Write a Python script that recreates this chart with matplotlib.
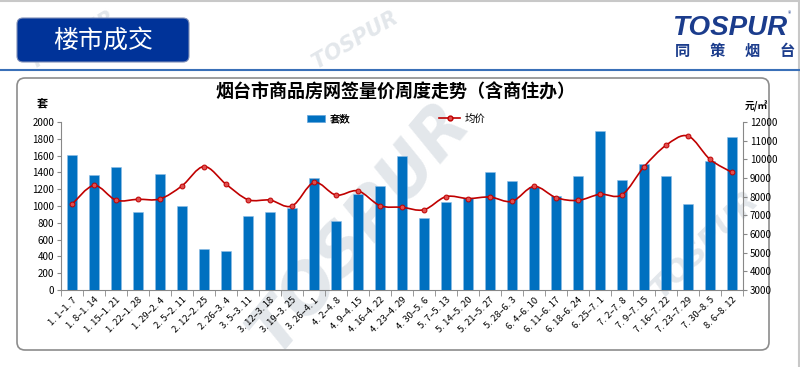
import matplotlib
matplotlib.use("Agg")
import matplotlib.pyplot as plt
from matplotlib.patches import FancyBboxPatch, Rectangle
from matplotlib.path import Path
from matplotlib.patches import PathPatch
from matplotlib.lines import Line2D
import numpy as np

plt.rcParams['font.family'] = ['Noto Sans CJK SC', 'DejaVu Sans']

# 周度网签数据
weeks = ["1. 1–1. 7", "1. 8–1. 14", "1. 15–1. 21", "1. 22–1. 28", "1. 29–2. 4", "2. 5–2. 11",
         "2. 12–2. 25", "2. 26–3. 4", "3. 5–3. 11", "3. 12–3. 18", "3. 19–3. 25", "3. 26–4. 1",
         "4. 2–4. 8", "4. 9–4. 15", "4. 16–4. 22", "4. 23–4. 29", "4. 30–5. 6", "5. 7–5. 13",
         "5. 14–5. 20", "5. 21–5. 27", "5. 28–6. 3", "6. 4–6. 10", "6. 11–6. 17", "6. 18–6. 24",
         "6. 25–7. 1", "7. 2–7. 8", "7. 9–7. 15", "7. 16–7. 22", "7. 23–7. 29", "7. 30–8. 5",
         "8. 6–8. 12"]
units = [1610, 1370, 1470, 930, 1380, 1000, 490, 460, 880, 930, 980, 1330,
         825, 1140, 1240, 1600, 855, 1045, 1100, 1400, 1300, 1222, 1122, 1355,
         1890, 1310, 1500, 1355, 1022, 1533, 1822]
avg_price = [7590, 8600, 7815, 7860, 7880, 8580, 9615, 8670, 7840, 7815, 7500, 8760,
             8085, 8310, 7520, 7430, 7300, 8000, 7900, 7980, 7750, 8550, 7950, 7800,
             8130, 8100, 9600, 10750, 11250, 10000, 9300]

BLUE = "#0070C0"
RED = "#C00000"
LOGO = "#1B3C8C"

fig = plt.figure(figsize=(8, 3.67), dpi=100)

# 背景层（像素坐标）
bg = fig.add_axes([0, 0, 1, 1], zorder=0)
bg.set_xlim(0, 800)
bg.set_ylim(367, 0)
bg.axis("off")

# 水印
wm = dict(color="#e3e7eb", fontweight="bold", style="italic", family="DejaVu Sans",
          ha="center", va="center", zorder=1)
bg.text(72, 40, "TOSPUR", fontsize=15, rotation=30, **wm)
bg.text(355, 40, "TOSPUR", fontsize=15, rotation=30, **wm)
bg.text(360, 228, "TOSPUR", fontsize=48, rotation=50, **wm)
bg.text(705, 245, "TOSPUR", fontsize=22, rotation=45, **wm)

# 边框线
bg.plot([0, 800], [1, 1], color="#c8c8c8", lw=1.5, zorder=2)
bg.plot([799, 799], [0, 367], color="#c8c8c8", lw=1.5, zorder=2)
bg.plot([0, 800], [70, 70], color="#3A70B8", lw=1.5, zorder=2)

# 标题标签
bg.add_patch(FancyBboxPatch((17, 18), 172, 44, boxstyle="round,pad=0,rounding_size=6",
                            fc="#003399", ec="#7f8fb8", lw=0.8, zorder=3))
bg.text(103, 41, "楼市成交", color="white", fontsize=18, ha="center", va="center", zorder=4)

# logo
bg.text(730, 28, "TOSPUR", color=LOGO, fontsize=20, fontweight="bold", style="italic",
        family="Liberation Sans", ha="center", va="center", zorder=4)
bg.text(790, 14, "®", color=LOGO, fontsize=5, ha="center", va="center", zorder=4)
for i, ch in enumerate("同策烟台"):
    bg.text(682 + i * 35, 51, ch, color=LOGO, fontsize=11, fontweight="bold",
            ha="center", va="center", zorder=4)

# 图表外框
bg.add_patch(FancyBboxPatch((17, 78), 752, 272, boxstyle="round,pad=0,rounding_size=8",
                            fc="none", ec="#8c8c8c", lw=1.2, zorder=2))

bg.text(395, 92, "烟台市商品房网签量价周度走势（含商住办）", fontsize=13, fontweight="bold",
        ha="center", va="center", zorder=4)
bg.text(42, 103, "套", fontsize=8, fontweight="bold", ha="center", va="center", zorder=4)
bg.text(756, 106, "元/㎡", fontsize=7, fontweight="bold", ha="center", va="center", zorder=4)

# 主图
ax = fig.add_axes([61 / 800, 1 - 290 / 367, (743 - 61) / 800, (290 - 122) / 367], zorder=2)
ax.patch.set_visible(False)
x = np.arange(len(weeks))
ax.bar(x, units, width=0.42, color=BLUE, edgecolor="#8fbde6", linewidth=0.4, zorder=3)
ax.set_xlim(-0.45, len(weeks) - 0.55)
ax.set_ylim(0, 2000)
ax.set_yticks(range(0, 2001, 200))
ax.set_xticks(x)
ax.set_xticklabels(weeks, rotation=45, ha="right", rotation_mode="anchor", fontsize=6.8)
ax.set_xticks(np.arange(-0.5, len(weeks), 1), minor=True)
ax.tick_params(axis="x", which="major", length=0, pad=4)
ax.tick_params(axis="x", which="minor", length=4, color="#888888", direction="out")
ax.tick_params(axis="y", labelsize=7, length=3, color="#888888", pad=2)
for s in ["top", "right"]:
    ax.spines[s].set_visible(False)
for s in ["left", "bottom"]:
    ax.spines[s].set_color("#888888")

ax2 = ax.twinx()
ax2.set_ylim(3000, 12000)
ax2.set_yticks(range(3000, 12001, 1000))
ax2.tick_params(axis="y", labelsize=7, length=3, color="#888888", pad=2)
for s in ["top", "left", "bottom"]:
    ax2.spines[s].set_visible(False)
ax2.spines["right"].set_color("#888888")

# 平滑曲线（Catmull-Rom -> Bezier）
pts = np.column_stack([x, avg_price]).astype(float)
ext = np.vstack([pts[0], pts, pts[-1]])
verts = [tuple(pts[0])]
codes = [Path.MOVETO]
for i in range(len(pts) - 1):
    p0, p1, p2, p3 = ext[i], ext[i + 1], ext[i + 2], ext[i + 3]
    c1 = p1 + (p2 - p0) / 6
    c2 = p2 - (p3 - p1) / 6
    verts += [tuple(c1), tuple(c2), tuple(p2)]
    codes += [Path.CURVE4] * 3
ax2.add_patch(PathPatch(Path(verts, codes), fc="none", ec=RED, lw=1.2, zorder=4))
ax2.plot(x, avg_price, ls="none", marker="o", ms=3.5, mfc="#E05050", mec=RED, mew=0.7, zorder=5)

# 图例
h1 = Rectangle((0, 0), 1, 1, fc=BLUE, ec="#8fbde6", lw=0.4)
h2 = Line2D([], [], color=RED, lw=1.2, marker="o", ms=3.5, mfc="#E05050", mec=RED)
lg1 = fig.legend([h1], ["套数"], loc="center left", bbox_to_anchor=(298 / 800, 1 - 119 / 367),
                 frameon=False, fontsize=7.5, handlelength=1.7, handleheight=0.6, handletextpad=0.4)
fig.legend([h2], ["均价"], loc="center left", bbox_to_anchor=(430 / 800, 1 - 119 / 367),
           frameon=False, fontsize=7.5, handlelength=2.0, handletextpad=0.4)
fig.add_artist(lg1)

fig.savefig("out.png", dpi=100)
